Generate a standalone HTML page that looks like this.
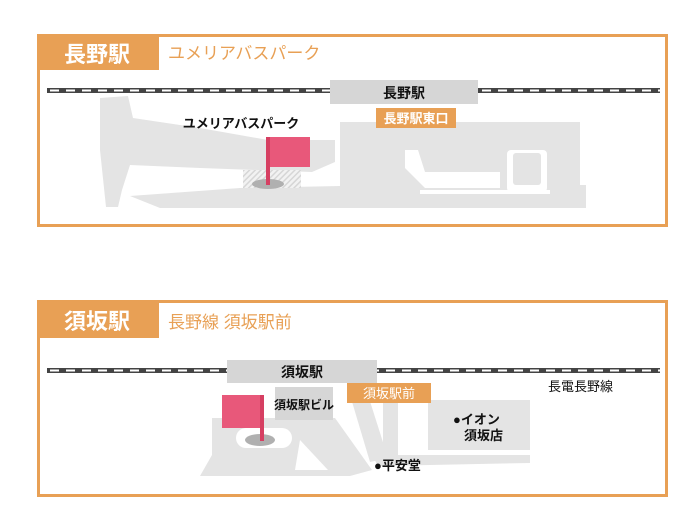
<!DOCTYPE html>
<html><head><meta charset="utf-8"><style>
html,body{margin:0;padding:0;background:#fff;}
body{width:700px;height:532px;position:relative;overflow:hidden;font-family:"Liberation Sans","Noto Sans CJK JP",sans-serif;}
svg{position:absolute;left:0;top:0;}
text{font-family:"Liberation Sans","Noto Sans CJK JP",sans-serif;}
</style></head><body>
<svg width="700" height="532" viewBox="0 0 700 532">
<defs>
<pattern id="h" width="4" height="4" patternUnits="userSpaceOnUse" patternTransform="rotate(45)">
<rect width="4" height="4" fill="#f2f2f2"/><rect width="1.5" height="4" fill="#d6d6d6"/></pattern>
</defs>
<!-- Panel 1 -->
<rect x="38.5" y="35.5" width="628" height="190" fill="#fff" stroke="#e8a055" stroke-width="3"/>
<rect x="37" y="34" width="122" height="36" fill="#e8a055"/>
<text x="97" y="62" font-size="22" font-weight="bold" fill="#fff" text-anchor="middle">長野駅</text>
<text x="168" y="59" font-size="17" fill="#e8a055">ユメリアバスパーク</text>
<rect x="47" y="88" width="613" height="5" fill="#444"/>
<line x1="50" y1="90.5" x2="660" y2="90.5" stroke="#fff" stroke-width="2" stroke-dasharray="9,7"/>
<g fill="#e4e4e4">
<polygon points="100,98 128,96 133,118 200,128 268,140 335,140 335,162 312,172 200,168 130,165 122,190 118,207 106,207 100,150"/>
<polygon points="130,196 240,188 340,186 340,208 160,208"/>
<rect x="340" y="122" width="240" height="86"/>
<rect x="578" y="185" width="8" height="23"/>
</g>
<path d="M405,150 L405,168 L425,188 L500,188 L500,172 L425,172 L418,150 Z" fill="#fff"/>
<rect x="507" y="150" width="40" height="42" rx="4" fill="#fff"/>
<rect x="513" y="153" width="28" height="32" rx="3" fill="#e4e4e4"/>
<rect x="420" y="190" width="130" height="4" fill="#fff"/>
<rect x="243" y="170" width="58" height="18" fill="url(#h)"/>
<ellipse cx="268" cy="184" rx="16" ry="5" fill="#b0b0b0"/>
<rect x="266" y="137" width="4" height="48" fill="#d63f62"/>
<rect x="270" y="137" width="40" height="30" fill="#e8587a"/>
<text x="241" y="128" font-size="13" font-weight="bold" fill="#111" text-anchor="middle">ユメリアバスパーク</text>
<rect x="330" y="80" width="148" height="24" fill="#d6d6d6"/>
<text x="404" y="98" font-size="14" font-weight="bold" fill="#111" text-anchor="middle">長野駅</text>
<rect x="376" y="108" width="80" height="20" fill="#e8a055"/>
<text x="416" y="123" font-size="13" font-weight="bold" fill="#fff" text-anchor="middle">長野駅東口</text>

<!-- Panel 2 -->
<rect x="38.5" y="301.5" width="628" height="194" fill="#fff" stroke="#e8a055" stroke-width="3"/>
<rect x="37" y="300" width="122" height="38" fill="#e8a055"/>
<text x="97" y="329" font-size="22" font-weight="bold" fill="#fff" text-anchor="middle">須坂駅</text>
<text x="168" y="328" font-size="17" fill="#e8a055">長野線 須坂駅前</text>
<rect x="47" y="368" width="613" height="5" fill="#444"/>
<line x1="50" y1="370.5" x2="660" y2="370.5" stroke="#fff" stroke-width="2" stroke-dasharray="9,7"/>
<g fill="#e4e4e4">
<polygon points="212,418 335,418 372,470 350,476 200,476 212,455"/>
<polygon points="350,395 368,395 388,458 370,462"/>
<rect x="383" y="383" width="15" height="75"/>
<polygon points="372,455 530,455 530,463 378,466"/>
</g>
<rect x="236" y="428" width="56" height="20" rx="10" fill="#fff"/>
<polygon points="300,440 328,470 295,470" fill="#fff"/>
<rect x="428" y="400" width="102" height="50" fill="#e4e4e4"/>
<ellipse cx="260" cy="440" rx="15" ry="6" fill="#b0b0b0"/>
<rect x="260" y="395" width="4" height="46" fill="#d63f62"/>
<rect x="222" y="395" width="38" height="33" fill="#e8587a"/>
<rect x="227" y="360" width="150" height="23" fill="#d6d6d6"/>
<text x="302" y="377" font-size="14" font-weight="bold" fill="#111" text-anchor="middle">須坂駅</text>
<rect x="275" y="387" width="58" height="33" fill="#d6d6d6"/>
<text x="304" y="409" font-size="12" font-weight="bold" fill="#111" text-anchor="middle">須坂駅ビル</text>
<rect x="347" y="383" width="84" height="20" fill="#e8a055"/>
<text x="389" y="398" font-size="13" fill="#fff" text-anchor="middle">須坂駅前</text>
<text x="548" y="391" font-size="13" fill="#111">長電長野線</text>
<text x="453" y="424" font-size="13" font-weight="bold" fill="#111">●イオン</text>
<text x="464" y="440" font-size="13" font-weight="bold" fill="#111">須坂店</text>
<text x="374" y="470" font-size="13" font-weight="bold" fill="#111">●平安堂</text>
</svg>
</body></html>
